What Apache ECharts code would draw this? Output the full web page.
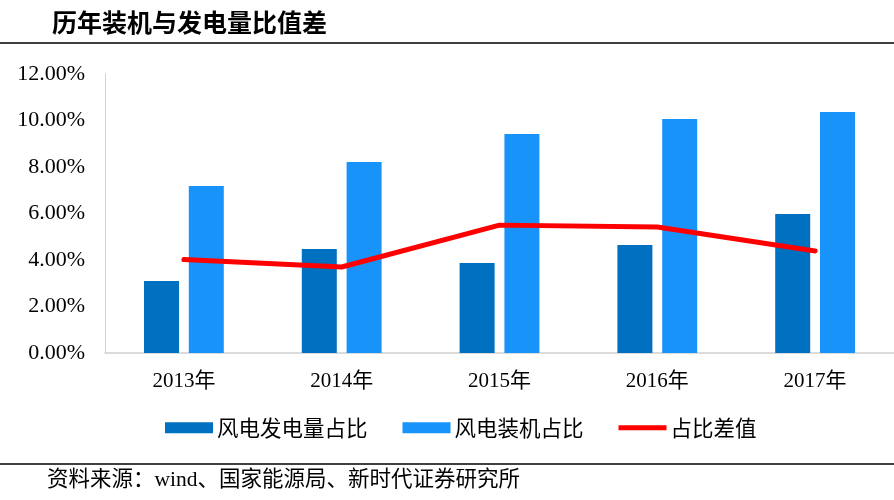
<!DOCTYPE html>
<html>
<head>
<meta charset="utf-8">
<script src="https://cdn.jsdelivr.net/npm/echarts@6/dist/echarts.min.js"></script>
<style>html,body{margin:0;padding:0;background:#fff}#c{width:894px;height:500px}</style>
</head>
<body>
<div id="c"></div>
<script>
const categories = ['2013年', '2014年', '2015年', '2016年', '2017年'];
const genShare = [3.10, 4.47, 3.87, 4.65, 5.98];
const capShare = [7.18, 8.22, 9.42, 10.06, 10.37];
const diffShare = [4.02, 3.70, 5.50, 5.42, 4.39];
const yTicks = [0, 2, 4, 6, 8, 10, 12];
const seriesNames = ['风电发电量占比', '风电装机占比', '占比差值'];
const titleText = '历年装机与发电量比值差';
const sourceText = '资料来源：wind、国家能源局、新时代证券研究所';

const chart = echarts.init(document.getElementById('c'));
const serif = '"Liberation Serif", "Noto Sans CJK SC", serif';
const cjk = '"Noto Sans CJK SC", sans-serif';
chart.setOption({
  animation: false,
  backgroundColor: '#fff',
  grid: { left: 105, right: 0, top: 74, bottom: 147 },
  legend: {
    left: 165, top: 417, padding: 0,
    itemWidth: 48, itemHeight: 11, itemGap: 35,
    textStyle: { fontFamily: cjk, fontSize: 21.5, color: '#000', padding: [0, 0, 0, -1] },
    data: [
      { name: seriesNames[0], icon: 'rect' },
      { name: seriesNames[1], icon: 'rect' },
      { name: seriesNames[2], icon: 'path://M0,0 L48,0 L48,5 L0,5 Z' }
    ]
  },
  xAxis: {
    type: 'category', data: categories,
    axisLine: { lineStyle: { color: '#d0d0d0', width: 1.5 } },
    axisTick: { show: false },
    axisLabel: { fontFamily: serif, fontSize: 21, color: '#000', margin: 18 }
  },
  yAxis: {
    type: 'value', min: yTicks[0], max: yTicks[yTicks.length - 1], interval: 2,
    axisLine: { show: true, lineStyle: { color: '#d0d0d0', width: 1 } },
    axisTick: { show: false },
    splitLine: { show: false },
    axisLabel: { fontFamily: serif, fontSize: 22, color: '#000', margin: 20,
      formatter: v => v.toFixed(2) + '%' }
  },
  series: [
    { name: seriesNames[0], type: 'bar', data: genShare, barWidth: 35, barGap: '28%',
      itemStyle: { color: '#0070C0' } },
    { name: seriesNames[1], type: 'bar', data: capShare, barWidth: 35,
      itemStyle: { color: '#1893FA' } },
    { name: seriesNames[2], type: 'line', data: diffShare, symbol: 'none',
      lineStyle: { color: '#FF0000', width: 5, cap: 'round' },
      itemStyle: { color: '#FF0000' } }
  ],
  graphic: [
    { type: 'text', left: 52, top: 10,
      style: { text: titleText, fontFamily: cjk, fontWeight: 'bold', fontSize: 25, fill: '#000' } },
    { type: 'line', shape: { x1: 0, y1: 43, x2: 894, y2: 43 }, style: { stroke: '#000', lineWidth: 1.5 } },
    { type: 'line', shape: { x1: 0, y1: 464, x2: 894, y2: 464 }, style: { stroke: '#000', lineWidth: 1.5 } },
    { type: 'text', left: 47, top: 470,
      style: { text: sourceText, fontFamily: serif, fontSize: 21.5, fill: '#000' } }
  ]
});
</script>
</body>
</html>
